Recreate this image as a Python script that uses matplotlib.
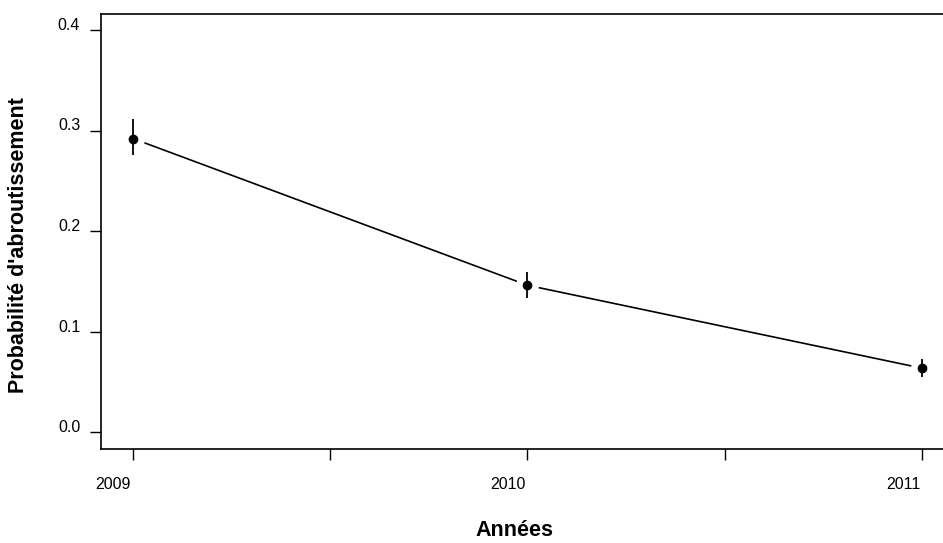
import matplotlib.pyplot as plt
import matplotlib.transforms as mtransforms
import numpy as np

# Values
years = [2009, 2010, 2011]
prob = [0.292, 0.146, 0.0635]
low = [0.276, 0.133, 0.055]
high = [0.311, 0.159, 0.0725]
y_ticks = [0.0, 0.1, 0.2, 0.3, 0.4]
y_tick_labels = ["0.0", "0.1", "0.2", "0.3", "0.4"]
x_minor = [2009.5, 2010.5]

plt.rcParams["font.family"] = ["Liberation Sans", "DejaVu Sans"]

fig = plt.figure(figsize=(9.43, 5.43), dpi=100)
ax = fig.add_axes([101 / 943, 1 - 449 / 543, 1 - 101 / 943, (449 - 14) / 543])

prob = np.array(prob)
err = np.vstack([prob - np.array(low), np.array(high) - prob])

# R type="b": line broken around each point
ax.plot(years, prob, color="black", lw=1.2, zorder=1)
ax.plot(years, prob, ls="none", marker="o", ms=15.5, mfc="white", mec="white", zorder=2)
ax.errorbar(years, prob, yerr=err, fmt="none", ecolor="black", elinewidth=1.3, capsize=0, zorder=3)
ax.plot(years, prob, ls="none", marker="o", ms=6, color="black", zorder=4)

ax.set_xlim(2009 - 32 / 395, 2011 + 21 / 395)
ax.set_ylim(-17 / 1005, 0.4 + 16 / 1005)

ax.set_xticks(years)
ax.set_xticklabels([str(y) for y in years])
ax.set_xticks(x_minor, minor=True)
ax.set_yticks(y_ticks)
ax.set_yticklabels(y_tick_labels)

ax.tick_params(axis="both", which="both", direction="out", length=8, width=1, color="black")
ax.tick_params(axis="x", which="major", pad=12, labelsize=11.5)
ax.tick_params(axis="y", which="major", pad=7, labelsize=11.5)

# year labels sit just left of their tick, y labels slightly above theirs
x_shift = mtransforms.ScaledTranslation(-2 / 100, 0, fig.dpi_scale_trans)
for lab in ax.get_xticklabels():
    lab.set_horizontalalignment("right")
    lab.set_transform(lab.get_transform() + x_shift)
y_shift = mtransforms.ScaledTranslation(0, 6 / 100, fig.dpi_scale_trans)
for lab in ax.get_yticklabels():
    lab.set_transform(lab.get_transform() + y_shift)

for side in ["left", "bottom", "top"]:
    ax.spines[side].set_linewidth(1.2)
ax.spines["right"].set_visible(False)

fig.text(19 / 943, 1 - 245 / 543, "Probabilité d'abroutissement", rotation=90,
         ha="center", va="center", fontsize=15.5, fontweight="bold")
fig.text(514 / 943, 1 - 531 / 543, "Années", ha="center", va="center",
         fontsize=15.5, fontweight="bold")

fig.savefig("out.png", dpi=100)
